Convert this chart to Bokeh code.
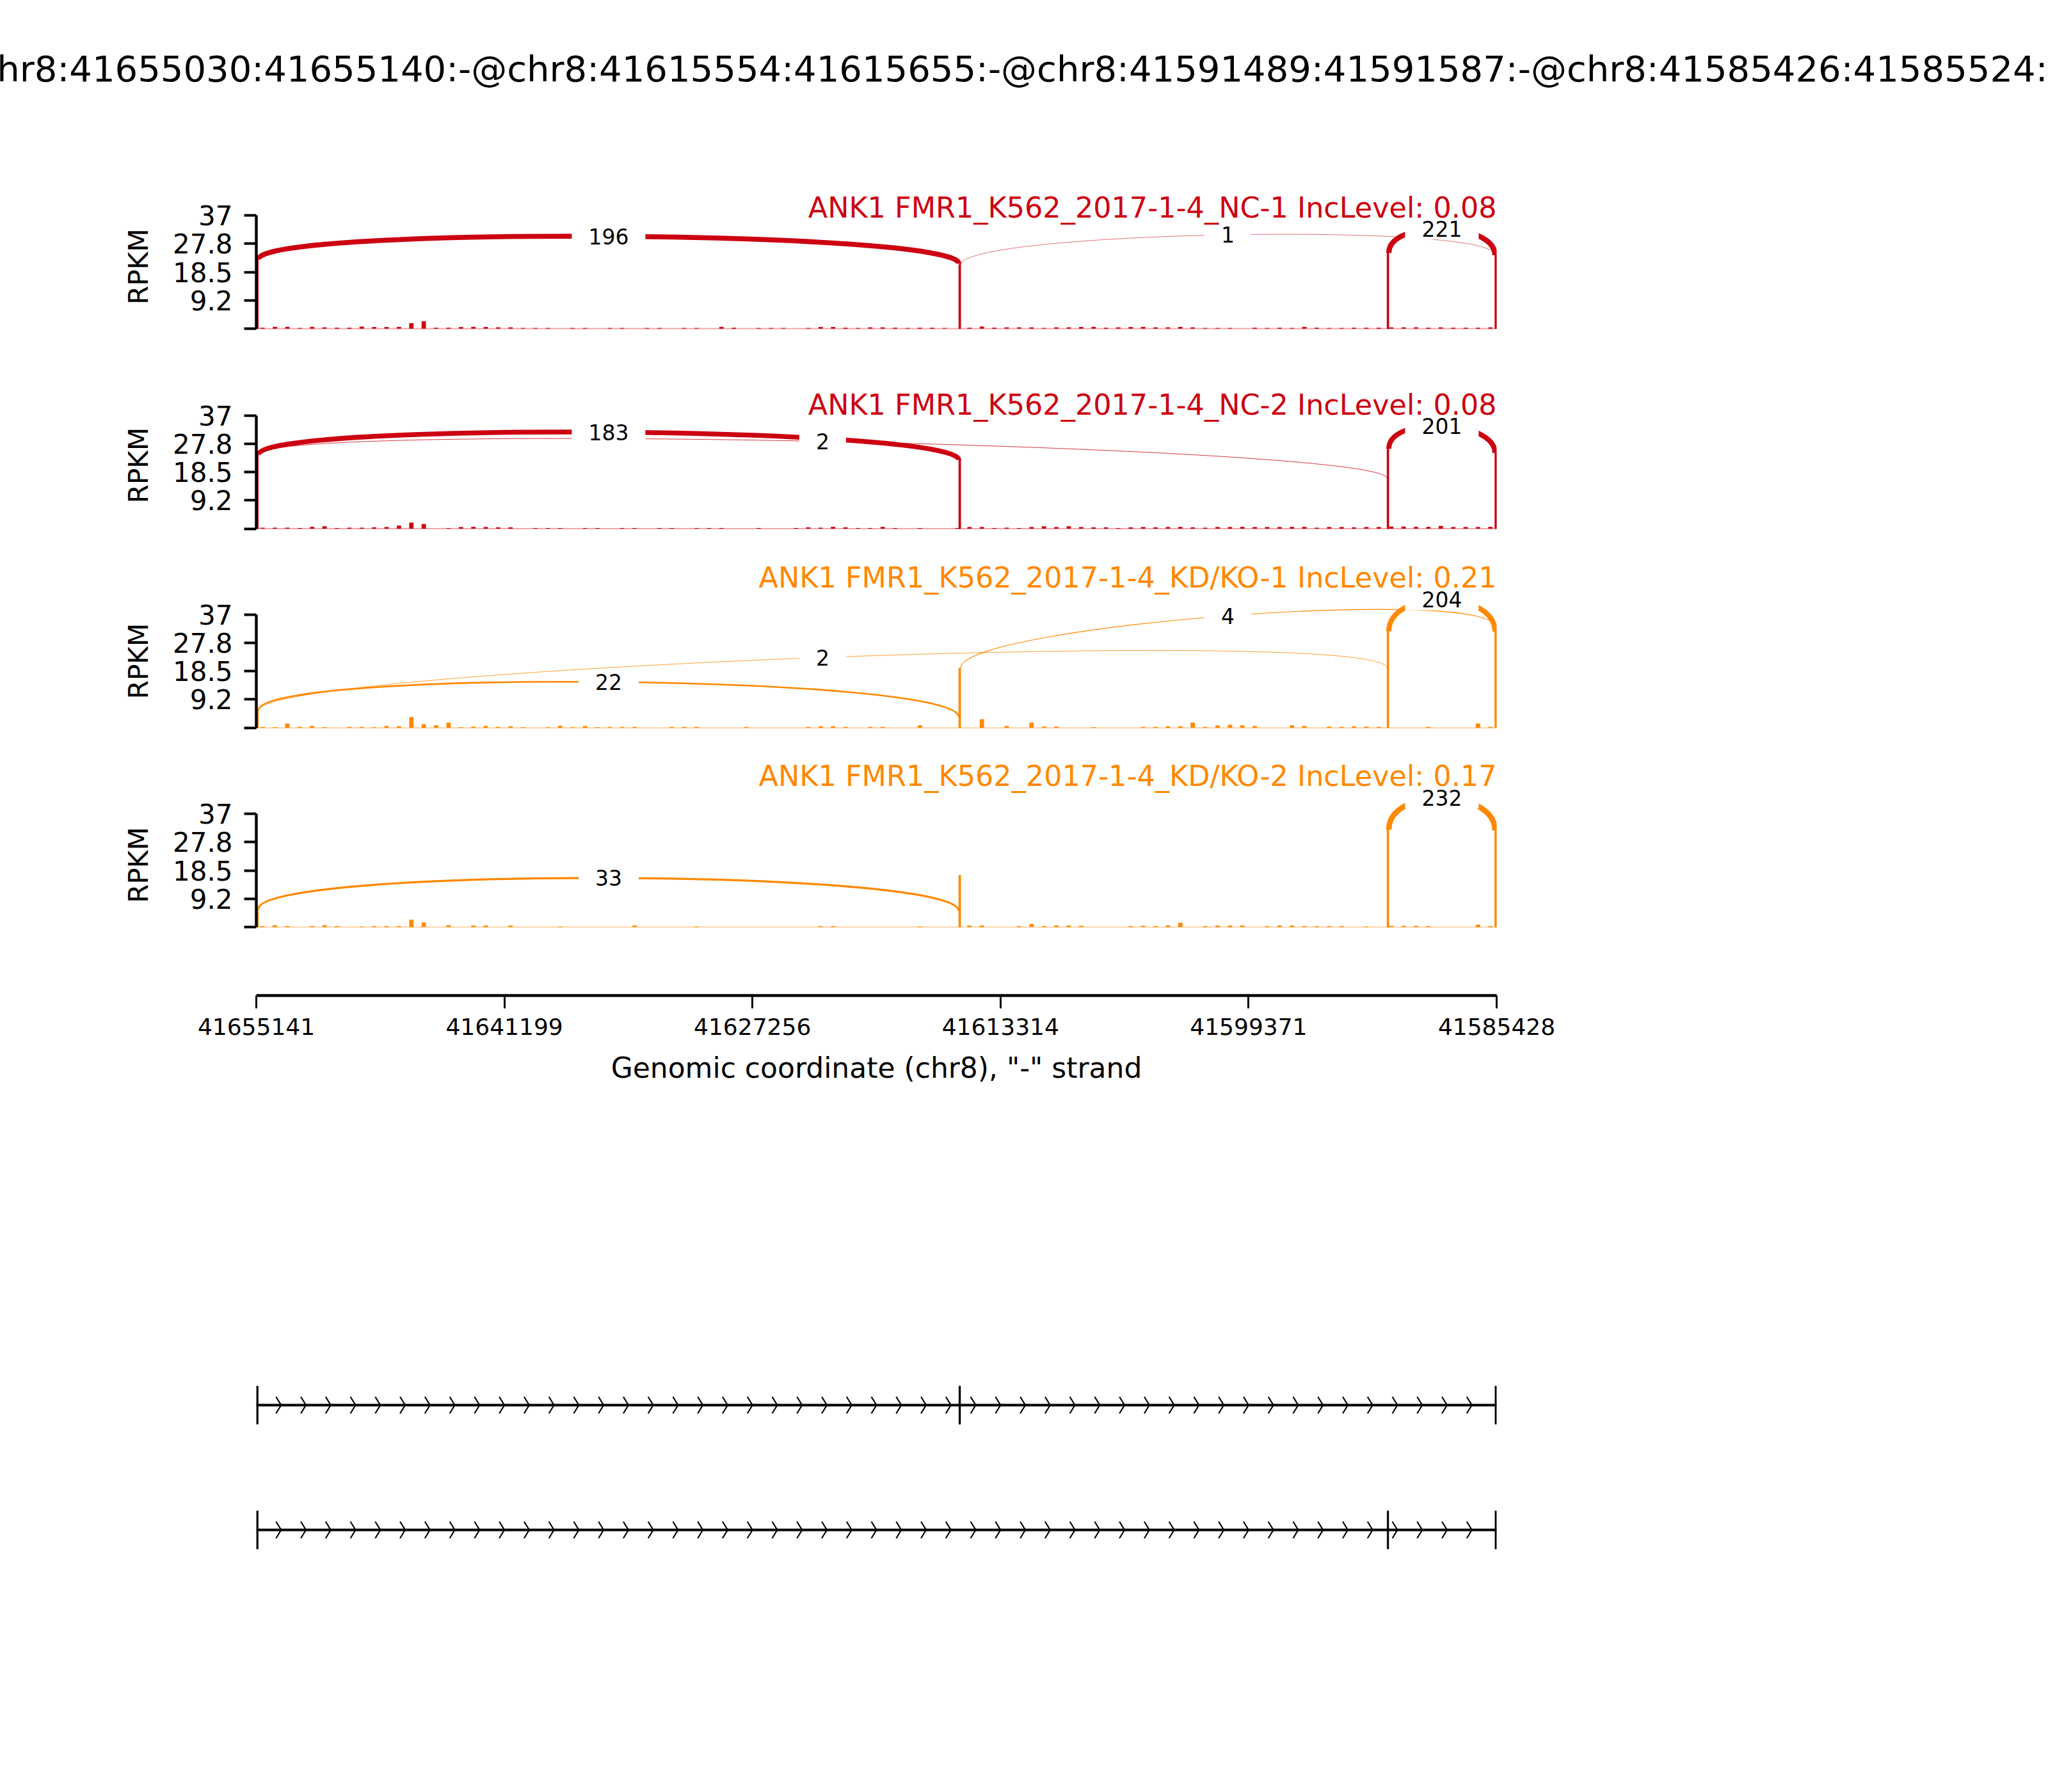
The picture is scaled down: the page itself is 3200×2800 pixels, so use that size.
import numpy as np
from bokeh.plotting import figure
from bokeh.layouts import column
from bokeh.models import Range1d, FixedTicker, Title
from bokeh.core.properties import value
from bokeh.embed import file_html
from bokeh.resources import INLINE

FONT = "DejaVu Sans"

# ----------------------------- data -----------------------------
event_title = ("chr8:41655030:41655140:-@chr8:41615554:41615655:-@"
               "chr8:41591489:41591587:-@chr8:41585426:41585524:-")
chrom_start = 41655141
chrom_end = 41585428
x_ticks = [41655141, 41641199, 41627256, 41613314, 41599371, 41585428]
x_tick_labels = ["41655141", "41641199", "41627256", "41613314", "41599371", "41585428"]
x_axis_title = 'Genomic coordinate (chr8), "-" strand'
y_axis_title = "RPKM"
y_ticks = [0, 9.25, 18.5, 27.75, 37]
y_tick_labels = ["", "9.2", "18.5", "27.8", "37"]
y_axis_max = 37

exon_starts = [41655030, 41615554, 41591489, 41585426]
exon_ends = [41655140, 41615655, 41591587, 41585524]
isoform_exons = [[0, 1, 3], [0, 2, 3]]

# junctions: e1->e2, e2->e4, e1->e3, e3->e4
jxn_from = [41655030, 41615554, 41655030, 41591489]
jxn_to = [41615655, 41585524, 41591587, 41585524]

sample_labels = ["ANK1 FMR1_K562_2017-1-4_NC-1 IncLevel: 0.08",
                 "ANK1 FMR1_K562_2017-1-4_NC-2 IncLevel: 0.08",
                 "ANK1 FMR1_K562_2017-1-4_KD/KO-1 IncLevel: 0.21",
                 "ANK1 FMR1_K562_2017-1-4_KD/KO-2 IncLevel: 0.17"]
sample_colors = ["#CC0011", "#CC0011", "#FF8800", "#FF8800"]

nc1_jxn_counts = [196, 1, 0, 221]
nc2_jxn_counts = [183, 0, 2, 201]
kd1_jxn_counts = [22, 4, 2, 204]
kd2_jxn_counts = [33, 0, 0, 232]

# coverage (RPKM) where each junction leaves / arrives
nc1_from_cov = [22.6, 20.8, 0, 24.7]
nc1_to_cov = [21.2, 24.0, 0, 24.0]
nc2_from_cov = [24.1, 0, 24.1, 26.1]
nc2_to_cov = [22.4, 0, 16.4, 24.7]
kd1_from_cov = [5.6, 19.5, 5.6, 31.5]
kd1_to_cov = [3.5, 32.8, 19.5, 31.4]
kd2_from_cov = [5.85, 0, 0, 31.8]
kd2_to_cov = [5.2, 0, 0, 31.5]

arc_heights = [11.0, 11.0, 13.9, 14.0]

# exon coverage (RPKM)
nc1_exon_cov = [22.6, 21.0, 24.7, 24.0]
nc2_exon_cov = [24.1, 22.4, 26.1, 24.7]
kd1_exon_cov = [5.6, 19.5, 31.5, 31.4]
kd2_exon_cov = [5.85, 16.9, 31.8, 31.5]

# intronic coverage (RPKM), 100 bins along the region
nc1_cov = [0.3, 0.6, 0.6, 0.2, 0.6, 0.4, 0.3, 0.3, 0.7, 0.5,
           0.5, 0.6, 1.8, 2.4, 0.3, 0.3, 0.5, 0.6, 0.5, 0.4,
           0.4, 0.2, 0.2, 0.2, 0.0, 0.2, 0.2, 0.0, 0.2, 0.2,
           0.0, 0.2, 0.2, 0.0, 0.2, 0.2, 0.0, 0.6, 0.3, 0.0,
           0.2, 0.2, 0.2, 0.0, 0.2, 0.5, 0.5, 0.3, 0.2, 0.4,
           0.4, 0.3, 0.2, 0.3, 0.3, 0.2, 0.0, 0.3, 0.7, 0.3,
           0.4, 0.4, 0.4, 0.2, 0.4, 0.4, 0.5, 0.6, 0.3, 0.4,
           0.5, 0.6, 0.4, 0.4, 0.6, 0.4, 0.2, 0.2, 0.2, 0.0,
           0.3, 0.2, 0.3, 0.2, 0.6, 0.3, 0.2, 0.2, 0.3, 0.3,
           0.3, 0.4, 0.4, 0.4, 0.3, 0.4, 0.3, 0.3, 0.3, 0.4]
nc2_cov = [0.3, 0.3, 0.3, 0.2, 0.6, 0.8, 0.2, 0.3, 0.3, 0.4,
           0.5, 1.0, 2.0, 1.5, 0.0, 0.2, 0.5, 0.6, 0.5, 0.4,
           0.4, 0.0, 0.2, 0.2, 0.2, 0.0, 0.2, 0.2, 0.0, 0.2,
           0.2, 0.0, 0.2, 0.2, 0.0, 0.2, 0.2, 0.2, 0.0, 0.0,
           0.2, 0.0, 0.0, 0.2, 0.4, 0.3, 0.6, 0.4, 0.2, 0.2,
           0.6, 0.2, 0.0, 0.2, 0.0, 0.0, 0.2, 0.5, 0.5, 0.2,
           0.3, 0.2, 0.5, 0.8, 0.5, 0.8, 0.5, 0.4, 0.4, 0.2,
           0.4, 0.5, 0.4, 0.5, 0.6, 0.4, 0.3, 0.5, 0.5, 0.6,
           0.5, 0.5, 0.5, 0.6, 0.6, 0.3, 0.5, 0.5, 0.4, 0.5,
           0.5, 0.7, 0.7, 0.6, 0.6, 0.9, 0.5, 0.5, 0.5, 0.6]
kd1_cov = [0.3, 0.2, 1.4, 0.3, 0.6, 0.2, 0.0, 0.3, 0.3, 0.2,
           0.6, 0.5, 3.5, 1.2, 0.8, 1.7, 0.2, 0.4, 0.6, 0.3,
           0.5, 0.2, 0.0, 0.2, 0.7, 0.2, 0.6, 0.2, 0.3, 0.3,
           0.3, 0.0, 0.0, 0.3, 0.3, 0.3, 0.0, 0.0, 0.0, 0.3,
           0.0, 0.0, 0.0, 0.0, 0.3, 0.5, 0.5, 0.3, 0.0, 0.3,
           0.3, 0.0, 0.0, 0.8, 0.0, 0.0, 0.0, 0.0, 2.8, 0.0,
           0.6, 0.0, 1.7, 0.4, 0.4, 0.0, 0.0, 0.2, 0.0, 0.0,
           0.0, 0.3, 0.3, 0.5, 0.5, 1.7, 0.3, 0.8, 1.0, 0.8,
           0.6, 0.0, 0.0, 0.8, 0.6, 0.0, 0.4, 0.3, 0.5, 0.4,
           0.3, 0.0, 0.0, 0.0, 0.3, 0.0, 0.0, 0.0, 1.4, 0.3]
kd2_cov = [0.3, 0.6, 0.3, 0.0, 0.3, 0.6, 0.3, 0.0, 0.2, 0.3,
           0.3, 0.3, 2.4, 1.5, 0.0, 0.6, 0.0, 0.5, 0.5, 0.0,
           0.5, 0.0, 0.0, 0.0, 0.2, 0.0, 0.0, 0.0, 0.0, 0.0,
           0.5, 0.0, 0.0, 0.0, 0.0, 0.2, 0.0, 0.0, 0.0, 0.0,
           0.0, 0.0, 0.0, 0.0, 0.0, 0.3, 0.3, 0.0, 0.0, 0.0,
           0.0, 0.0, 0.0, 0.2, 0.0, 0.0, 0.0, 0.5, 0.5, 0.0,
           0.0, 0.3, 1.0, 0.3, 0.5, 0.5, 0.4, 0.0, 0.0, 0.0,
           0.3, 0.4, 0.3, 0.5, 1.4, 0.0, 0.3, 0.5, 0.5, 0.5,
           0.0, 0.3, 0.5, 0.5, 0.3, 0.3, 0.3, 0.3, 0.0, 0.2,
           0.0, 0.4, 0.4, 0.4, 0.3, 0.0, 0.0, 0.0, 0.8, 0.3]

# ----------------------------- layout (pixels) -----------------------------
W = 3200
FRAME_L = 400
FRAME_W = 1938
FRAME_R = W - FRAME_L - FRAME_W
PXU = 177.0 / 37.0                      # pixels per RPKM unit
# (canvas top, frame top, frame bottom, canvas bottom, zero line) per panel
panel_geom = [(300, 305, 527, 560, 513.0),
              (560, 611, 842, 870, 825.5),
              (870, 881, 1184, 1184, 1136.7),
              (1184, 1184, 1518, 1518, 1448.0)]
panel_title_y = [39.5, 40.4, 49.1, 49.4]
max_count = max(nc1_jxn_counts + nc2_jxn_counts + kd1_jxn_counts + kd2_jxn_counts)


def base_fig(height, x_range, y_range, top=0, bottom=0, x_loc=None, y_loc=None):
    p = figure(width=W, height=height, x_range=x_range, y_range=y_range,
               output_backend="svg", toolbar_location=None,
               x_axis_location=x_loc, y_axis_location=y_loc,
               min_border_left=FRAME_L, min_border_right=FRAME_R,
               min_border_top=top, min_border_bottom=bottom,
               outline_line_color=None, background_fill_color="white",
               border_fill_color="white")
    p.xgrid.visible = False
    p.ygrid.visible = False
    return p


# main title
pt = base_fig(300, Range1d(0, 1), Range1d(0, 1), top=140)
pt.add_layout(Title(text=event_title, align="left", offset=-436, vertical_align="middle",
                    standoff=0, text_font=FONT, text_font_size="56px",
                    text_font_style="normal", text_color="black"), "above")

panels = []
samples = [
    (nc1_jxn_counts, nc1_from_cov, nc1_to_cov, nc1_exon_cov, nc1_cov),
    (nc2_jxn_counts, nc2_from_cov, nc2_to_cov, nc2_exon_cov, nc2_cov),
    (kd1_jxn_counts, kd1_from_cov, kd1_to_cov, kd1_exon_cov, kd1_cov),
    (kd2_jxn_counts, kd2_from_cov, kd2_to_cov, kd2_exon_cov, kd2_cov),
]
for k, (counts, fcov, tcov, ecov, cov) in enumerate(samples):
    color = sample_colors[k]
    h = arc_heights[k]
    c_top, f_top, f_bot, c_bot, zero = panel_geom[k]
    y_lo = -(f_bot - zero) / PXU
    y_hi = (zero - f_top) / PXU
    p = base_fig(c_bot - c_top, Range1d(chrom_start, chrom_end), Range1d(y_lo, y_hi),
                 top=f_top - c_top, bottom=c_bot - f_bot, y_loc="left")
    # baseline
    p.segment(x0=[chrom_start], y0=[0], x1=[chrom_end], y1=[0], line_color=color,
              line_alpha=0.35, line_width=2)
    # coverage
    edges = np.linspace(chrom_start, chrom_end, len(cov) + 1)
    centers = (edges[:-1] + edges[1:]) / 2
    bw = abs(edges[1] - edges[0])
    p.vbar(x=centers, top=cov, bottom=0, width=bw * 0.35, fill_color=color, line_color=None)
    p.quad(left=exon_starts, right=exon_ends, bottom=0, top=ecov, fill_color=color,
           line_color=color, line_width=1)
    # junction arcs
    x0, y0, x1, y1, lw, la, mx, my, lab = [], [], [], [], [], [], [], [], []
    for j, c in enumerate(counts):
        if c <= 0:
            continue
        x0.append(jxn_from[j]); y0.append(fcov[j])
        x1.append(jxn_to[j]); y1.append(tcov[j])
        w = 8.5 * np.sqrt(c / max_count)
        lw.append(max(w, 1.0)); la.append(min(1.0, max(w, 0.35)))
        mx.append((jxn_from[j] + jxn_to[j]) / 2)
        my.append((fcov[j] + tcov[j]) / 2 + 0.75 * h)
        lab.append(str(c))
    p.bezier(x0=x0, y0=y0, x1=x1, y1=y1, cx0=x0, cy0=[v + h for v in y0],
             cx1=x1, cy1=[v + h for v in y1], line_color=color, line_width=lw, line_alpha=la)
    p.text(x=mx, y=my, text=lab, text_align="center", text_baseline="middle",
           text_font=value(FONT), text_font_size="33px", text_color="black",
           background_fill_color="white",
           padding=dict(left=26, right=26, top=4, bottom=4))
    # sample title
    p.text(x=[chrom_end], y=[panel_title_y[k]], text=[sample_labels[k]], text_align="right",
           text_baseline="middle", text_font=value(FONT), text_font_size="44.5px",
           text_color=color)
    ax = p.yaxis[0]
    ax.bounds = (0, y_axis_max)
    ax.ticker = FixedTicker(ticks=y_ticks)
    ax.major_label_overrides = dict(zip(y_ticks, y_tick_labels))
    ax.minor_tick_line_color = None
    ax.major_tick_in = 0
    ax.major_tick_out = 19
    ax.major_tick_line_width = 4
    ax.axis_line_width = 4.4
    ax.major_label_standoff = 18
    ax.major_label_text_font = FONT
    ax.major_label_text_font_size = "42px"
    ax.major_label_text_color = "black"
    ax.axis_label = y_axis_title
    ax.axis_label_text_font = FONT
    ax.axis_label_text_font_size = "42px"
    ax.axis_label_text_font_style = "normal"
    ax.axis_label_text_color = "black"
    ax.axis_label_standoff = 26
    panels.append(p)

# bottom genomic axis
pa = base_fig(242, Range1d(chrom_start, chrom_end), Range1d(0, 1), bottom=205, x_loc="below")
xa = pa.xaxis[0]
xa.ticker = FixedTicker(ticks=x_ticks)
xa.major_label_overrides = dict(zip(x_ticks, x_tick_labels))
xa.minor_tick_line_color = None
xa.major_tick_in = 0
xa.major_tick_out = 20
xa.major_tick_line_width = 3
xa.axis_line_width = 4.5
xa.major_label_standoff = 15
xa.major_label_text_font = FONT
xa.major_label_text_font_size = "36px"
xa.major_label_text_color = "black"
xa.axis_label = x_axis_title
xa.axis_label_text_font = FONT
xa.axis_label_text_font_size = "44px"
xa.axis_label_text_font_style = "normal"
xa.axis_label_text_color = "black"
xa.axis_label_standoff = 23

# gene structure tracks
TRK_TOP, TRK_H = 1760, 1030
TRK_PX = 195.0
trk_hi = 2 + (2195 - TRK_TOP) / TRK_PX
trk_lo = 1 - (TRK_TOP + TRK_H - 2390) / TRK_PX
pg = base_fig(TRK_H, Range1d(chrom_start, chrom_end), Range1d(trk_lo, trk_hi))
track_y = [2, 1]
exon_half = 29.8 / TRK_PX
chev_half = 13.0 / TRK_PX
chev_dx = 8.0 * abs(chrom_end - chrom_start) / FRAME_W
for t, exs in enumerate(isoform_exons):
    y = track_y[t]
    s = [exon_starts[e] for e in exs]
    e_ = [exon_ends[e] for e in exs]
    g0, g1 = max(e_), min(s)
    pg.segment(x0=[g0], y0=[y], x1=[g1], y1=[y], line_color="black", line_width=4)
    tips = np.linspace(g0, g1, 51)[1:-1]
    ax0 = np.concatenate([tips + chev_dx, tips + chev_dx])
    ay0 = np.concatenate([np.full(len(tips), y + chev_half), np.full(len(tips), y - chev_half)])
    ax1 = np.concatenate([tips, tips])
    ay1 = np.full(2 * len(tips), float(y))
    pg.segment(x0=ax0, y0=ay0, x1=ax1, y1=ay1, line_color="black", line_width=2.2)
    pg.quad(left=s, right=e_, bottom=y - exon_half, top=y + exon_half,
            fill_color="black", line_color="black", line_width=0.5)

layout = column(pt, *panels, pa, pg)
open("out.html", "w").write(file_html(layout, INLINE))
